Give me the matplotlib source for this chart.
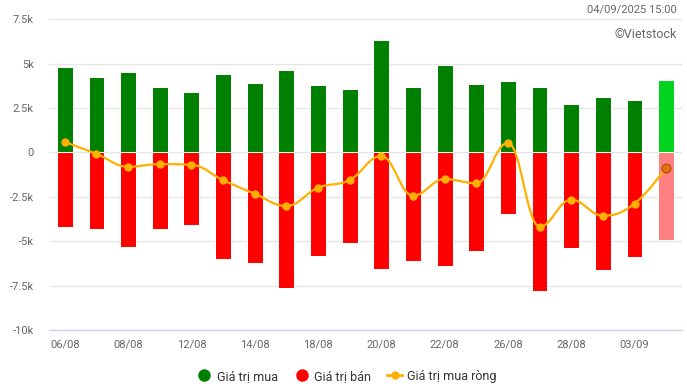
import matplotlib
matplotlib.use("Agg")
import matplotlib.pyplot as plt
from matplotlib.path import Path
from matplotlib.patches import PathPatch
from matplotlib.lines import Line2D
import numpy as np

plt.rcParams['font.family'] = ['Roboto', 'DejaVu Sans']

dates = ["06/08", "07/08", "08/08", "11/08", "12/08", "13/08", "14/08", "15/08",
         "18/08", "19/08", "20/08", "21/08", "22/08", "25/08", "26/08", "27/08",
         "28/08", "29/08", "03/09", "04/09"]
buy = [4790, 4230, 4510, 3670, 3380, 4400, 3890, 4620, 3780, 3550,
       6320, 3670, 4910, 3840, 4000, 3670, 2710, 3100, 2930, 4060]
sell = [-4180, -4290, -5300, -4290, -4070, -5980, -6200, -7660, -5810, -5080,
        -6560, -6090, -6370, -5580, -3450, -7830, -5360, -6650, -5870, -4910]
net = [580, -80, -810, -660, -700, -1560, -2330, -3020, -1990, -1560,
       -210, -2440, -1500, -1740, 540, -4180, -2660, -3560, -2890, -860]
yticks = [-10000, -7500, -5000, -2500, 0, 2500, 5000, 7500]
ytick_labels = ["-10k", "-7.5k", "-5k", "-2.5k", "0", "2.5k", "5k", "7.5k"]
label_idx = [0, 2, 4, 6, 8, 10, 12, 14, 16, 18]

fig = plt.figure(figsize=(6.87, 3.91), dpi=100)
ax = fig.add_axes([0.0713, 0.156, 0.9214, 0.795])

n = len(dates)
x = np.arange(n)
buy_colors = ['#008000'] * (n - 1) + ['#00d41e']
sell_colors = ['#ff0000'] * (n - 1) + ['#ff8080']
ax.bar(x, buy, width=0.5, color=buy_colors, zorder=2, edgecolor='white', linewidth=0.75)
ax.bar(x, sell, width=0.5, color=sell_colors, zorder=2, edgecolor='white', linewidth=0.75)

# Highcharts-like spline
def spline_path(xs, ys, smoothing=1.5):
    denom = smoothing + 1
    m = len(xs)
    lc = [None] * m
    rc = [None] * m
    for i in range(1, m - 1):
        px, py = xs[i], ys[i]
        lx, ly = xs[i - 1], ys[i - 1]
        nx, ny = xs[i + 1], ys[i + 1]
        lcx = (smoothing * px + lx) / denom
        lcy = (smoothing * py + ly) / denom
        rcx = (smoothing * px + nx) / denom
        rcy = (smoothing * py + ny) / denom
        if rcx != lcx:
            corr = ((rcy - lcy) * (rcx - px)) / (rcx - lcx) + py - rcy
            lcy += corr
            rcy += corr
        if lcy > max(ly, py):
            lcy = max(ly, py)
            rcy = 2 * py - lcy
        elif lcy < min(ly, py):
            lcy = min(ly, py)
            rcy = 2 * py - lcy
        if rcy > max(py, ny):
            rcy = max(py, ny)
            lcy = 2 * py - rcy
        elif rcy < min(py, ny):
            rcy = min(py, ny)
            lcy = 2 * py - rcy
        lc[i] = (lcx, lcy)
        rc[i] = (rcx, rcy)
    verts = [(xs[0], ys[0])]
    codes = [Path.MOVETO]
    for i in range(1, m):
        c1 = rc[i - 1] if rc[i - 1] is not None else (xs[i - 1], ys[i - 1])
        c2 = lc[i] if lc[i] is not None else (xs[i], ys[i])
        verts += [c1, c2, (xs[i], ys[i])]
        codes += [Path.CURVE4] * 3
    return Path(verts, codes)

line_color = '#ffb000'
patch = PathPatch(spline_path(list(x.astype(float)), [float(v) for v in net]),
                  facecolor='none', edgecolor=line_color, lw=1.6, zorder=3)
ax.add_patch(patch)
ax.scatter(x[:-1], net[:-1], s=36, color=line_color, zorder=4, linewidths=0)
ax.scatter(x[-1:], net[-1:], s=40, color='#e8720c', edgecolors='#a84c00',
           linewidths=0.8, zorder=4)

ax.set_xlim(-0.5, n - 0.5)
ax.set_ylim(-10000, 7500)
ax.set_yticks(yticks)
ax.set_yticklabels(ytick_labels)
ax.set_xticks(label_idx)
ax.set_xticklabels([dates[i] for i in label_idx])
ax.tick_params(axis='y', length=0, pad=11, labelsize=8, labelcolor='#666666')
ax.tick_params(axis='x', length=0, pad=7, labelsize=8, labelcolor='#666666')
ax.grid(axis='y', color='#e6e6e6', lw=1, zorder=0)
ax.set_axisbelow(True)
for s in ['top', 'right', 'left']:
    ax.spines[s].set_visible(False)
ax.spines['bottom'].set_color('#ccd6eb')
ax.spines['bottom'].set_linewidth(1)

fig.text(0.985, 0.975, "04/09/2025 15:00", ha='right', va='center',
         fontsize=8, color='#666666')
fig.text(0.985, 0.912, "©Vietstock", ha='right', va='center',
         fontsize=9, color='#666666')

handles = [
    Line2D([], [], marker='o', color='none', markerfacecolor='#008000',
           markeredgecolor='none', markersize=9, label='Giá trị mua'),
    Line2D([], [], marker='o', color='none', markerfacecolor='#ff0000',
           markeredgecolor='none', markersize=9, label='Giá trị bán'),
    Line2D([], [], marker='o', color=line_color, markerfacecolor=line_color,
           markeredgecolor='none', markersize=6, lw=2, label='Giá trị mua ròng'),
]
fig.legend(handles=handles, loc='center', bbox_to_anchor=(0.505, 0.038), ncol=3,
           frameon=False, fontsize=9, handlelength=1.2, handletextpad=0.4,
           columnspacing=1.3, labelcolor='#333333')

fig.savefig("out.png", dpi=100)
